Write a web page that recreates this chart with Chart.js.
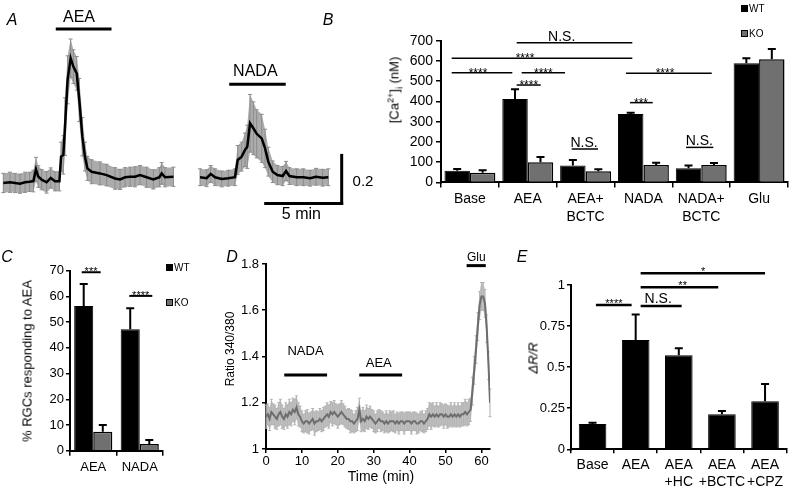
<!DOCTYPE html>
<html>
<head>
<meta charset="utf-8">
<script src="https://cdn.jsdelivr.net/npm/chart.js@4.4.1/dist/chart.umd.min.js"></script>
<style>
  html, body { margin: 0; padding: 0; background: #fff; }
  #fig { position: relative; width: 797px; height: 492px; overflow: hidden; font-family: "Liberation Sans", Arial, sans-serif; color: #000; }
  canvas { position: absolute; }
  .t { position: absolute; white-space: nowrap; transform: translate(-50%, -50%); line-height: 1; }
  .panel { font-style: italic; font-size: 16px; }
  .rot { transform: translate(-50%, -50%) rotate(-90deg); }
  .key { position: absolute; box-sizing: border-box; width: 7px; height: 7px; border: 1px solid #000; }
  .keytxt { position: absolute; font-size: 10px; line-height: 1; }
  sup, sub { font-size: 9px; line-height: 0; }
</style>
</head>
<body>
<div id="fig">
  <canvas id="cA" width="380" height="240" style="left:0;top:0"></canvas>
  <canvas id="cB" width="417" height="240" style="left:380px;top:0"></canvas>
  <canvas id="cC" width="240" height="252" style="left:0;top:240px"></canvas>
  <canvas id="cD" width="290" height="252" style="left:240px;top:240px"></canvas>
  <canvas id="cE" width="267" height="252" style="left:530px;top:240px"></canvas>

  <div class="t panel" style="left:12px;top:20px">A</div>
  <div class="t panel" style="left:328px;top:20px">B</div>
  <div class="t panel" style="left:7px;top:257px">C</div>
  <div class="t panel" style="left:232px;top:257px">D</div>
  <div class="t panel" style="left:522px;top:257px">E</div>

  <div class="t rot" style="left:394px;top:90px;font-size:13px">[Ca<sup>2+</sup>]<sub>i</sub> (nM)</div>
  <div class="t rot" style="left:27px;top:361px;font-size:13px">% RGCs responding to AEA</div>
  <div class="t rot" style="left:230px;top:349px;font-size:12px">Ratio 340/380</div>
  <div class="t" style="left:381px;top:476px;font-size:14px">Time (min)</div>
  <div class="t rot" style="left:533px;top:358px;font-size:13px;font-style:italic">&Delta;R/R</div>

  <div class="key" style="left:741px;top:5px;background:#000"></div>
  <div class="keytxt" style="left:749px;top:4px">WT</div>
  <div class="key" style="left:741px;top:30px;background:#707070"></div>
  <div class="keytxt" style="left:749px;top:29px">KO</div>

  <div class="key" style="left:166px;top:264px;background:#000"></div>
  <div class="keytxt" style="left:174px;top:263px">WT</div>
  <div class="key" style="left:166px;top:299px;background:#707070"></div>
  <div class="keytxt" style="left:174px;top:298px">KO</div>
</div>
<script>
// A: mean traces (ratio change vs time, min)
const aeaTime = [0.02, 0.46, 0.8, 1.12, 1.45, 1.75, 2.0, 2.17, 2.32, 2.54,
                 2.87, 3.14, 3.42, 3.71, 3.82, 3.97, 4.08, 4.25, 4.45, 4.63,
                 4.85, 5.02, 5.22, 5.39, 5.55, 5.83, 6.38, 6.82, 7.37, 7.7,
                 8.03, 8.36, 8.68, 9.01, 9.45, 9.89, 10.29, 10.44, 10.66, 11.21];
const aeaRatio = [0, 0.003, 0, -0.003, 0.003, 0.005, 0.008, 0.057, 0.027, 0.014,
                  0.003, 0.021, 0.007, 0.007, 0.11, 0.117, 0.235, 0.43, 0.52, 0.485,
                  0.457, 0.346, 0.193, 0.11, 0.061, 0.047, 0.04, 0.033, 0.019, 0.015,
                  0.024, 0.026, 0.026, 0.033, 0.024, 0.015, 0.024, 0.04, 0.024, 0.026];
const aeaErr = [0.04, 0.042, 0.04, 0.04, 0.042, 0.04, 0.045, 0.05, 0.045, 0.042,
                0.045, 0.042, 0.04, 0.04, 0.06, 0.08, 0.12, 0.10, 0.08, 0.07,
                0.07, 0.09, 0.08, 0.06, 0.05, 0.05, 0.048, 0.045, 0.045, 0.042,
                0.04, 0.04, 0.042, 0.04, 0.042, 0.04, 0.04, 0.045, 0.04, 0.04];
const nadaTime = [12.96, 13.4, 13.66, 13.95, 14.39, 14.82, 15.26, 15.44, 15.7, 15.92,
                  16.07, 16.25, 16.47, 16.69, 17.02, 17.24, 17.45, 17.74, 18.05, 18.4,
                  18.62, 18.84, 19.32, 19.76, 20.2, 20.59, 21.03, 21.4];
const nadaRatio = [0.024, 0.02, 0.038, 0.024, 0.017, 0.02, 0.024, 0.096, 0.11, 0.138,
                   0.151, 0.249, 0.228, 0.205, 0.186, 0.144, 0.089, 0.047, 0.033, 0.029,
                   0.05, 0.029, 0.024, 0.024, 0.02, 0.026, 0.022, 0.024];
const nadaErr = [0.035, 0.035, 0.035, 0.035, 0.033, 0.033, 0.035, 0.06, 0.06, 0.07,
                 0.09, 0.12, 0.11, 0.10, 0.10, 0.08, 0.06, 0.045, 0.04, 0.04,
                 0.04, 0.035, 0.035, 0.035, 0.033, 0.035, 0.035, 0.035];

// B: [Ca2+]i, nM
const bCats = ['Base', 'AEA', ['AEA+', 'BCTC'], 'NADA', ['NADA+', 'BCTC'], 'Glu'];
const bWT = [58, 412, 83, 338, 70, 588];
const bWTerr = [8, 48, 28, 6, 13, 25];
const bKO = [48, 99, 55, 86, 86, 608];
const bKOerr = [12, 26, 10, 11, 10, 51];

// C: % RGCs responding
const cCats = ['AEA', 'NADA'];
const cWT = [56.3, 47.2];
const cWTerr = [8.5, 8.2];
const cKO = [7.4, 2.6];
const cKOerr = [2.6, 1.6];

// D: ratio 340/380 over time
const dTime = [0, 0.5, 1, 1.5, 2, 2.5, 3, 3.5, 4, 4.5,
               5, 5.5, 6, 6.5, 7, 7.5, 8, 8.5, 9, 9.5,
               10, 10.5, 11, 11.5, 12, 12.5, 13, 13.5, 14, 14.5,
               15, 15.5, 16, 16.5, 17, 17.5, 18, 18.5, 19, 19.5,
               20, 20.5, 21, 21.5, 22, 22.5, 23, 23.5, 24, 24.5,
               25, 25.5, 26, 26.5, 27, 27.5, 28, 28.5, 29, 29.5,
               30, 30.5, 31, 31.5, 32, 32.5, 33, 33.5, 34, 34.5,
               35, 35.5, 36, 36.5, 37, 37.5, 38, 38.5, 39, 39.5,
               40, 40.5, 41, 41.5, 42, 42.5, 43, 43.5, 44, 44.5,
               45, 45.5, 46, 46.5, 47, 47.5, 48, 48.5, 49, 49.5,
               50, 50.5, 51, 51.5, 52, 52.5, 53, 53.5, 54, 54.5,
               55, 55.5, 56, 56.5,
               57, 57.5, 58, 58.5, 59, 59.5, 60, 60.5, 61, 61.5, 62, 62.4];
const dRatio = [1.14, 1.15, 1.13, 1.16, 1.15, 1.14, 1.13, 1.15, 1.16, 1.14,
                1.13, 1.15, 1.14, 1.16, 1.15, 1.17, 1.16, 1.18, 1.15, 1.14,
                1.12, 1.11, 1.12, 1.12, 1.11, 1.12, 1.13, 1.11, 1.12, 1.12,
                1.13, 1.12, 1.13, 1.14, 1.15, 1.14, 1.16, 1.15, 1.16, 1.15,
                1.14, 1.15, 1.16, 1.15, 1.14, 1.13, 1.13, 1.12, 1.12, 1.11,
                1.12, 1.13, 1.17, 1.12, 1.13, 1.12, 1.14, 1.13, 1.14, 1.13,
                1.12, 1.11, 1.12, 1.13, 1.12, 1.12, 1.11, 1.12, 1.11, 1.12,
                1.12, 1.12, 1.11, 1.12, 1.11, 1.12, 1.12, 1.11, 1.12, 1.12,
                1.12, 1.11, 1.12, 1.12, 1.11, 1.11, 1.12, 1.12, 1.11, 1.12,
                1.13, 1.15, 1.14, 1.15, 1.14, 1.15, 1.14, 1.15, 1.15, 1.14,
                1.15, 1.14, 1.14, 1.15, 1.14, 1.15, 1.14, 1.15, 1.14, 1.15,
                1.15, 1.16, 1.15, 1.16,
                1.17, 1.25, 1.34, 1.43, 1.53, 1.62, 1.66, 1.66, 1.63, 1.52, 1.36, 1.20];
const dErr = [0.05, 0.045, 0.05, 0.055, 0.045, 0.05, 0.045, 0.05, 0.055, 0.05,
              0.045, 0.05, 0.05, 0.055, 0.05, 0.05, 0.055, 0.05, 0.05, 0.045,
              0.045, 0.04, 0.045, 0.05, 0.045, 0.04, 0.045, 0.05, 0.045, 0.04,
              0.045, 0.045, 0.05, 0.045, 0.05, 0.05, 0.045, 0.05, 0.05, 0.045,
              0.05, 0.045, 0.05, 0.045, 0.045, 0.04, 0.045, 0.05, 0.045, 0.04,
              0.045, 0.05, 0.05, 0.045, 0.05, 0.045, 0.05, 0.045, 0.045, 0.04,
              0.045, 0.04, 0.045, 0.04, 0.045, 0.04, 0.04, 0.045, 0.04, 0.045,
              0.04, 0.045, 0.04, 0.04, 0.045, 0.04, 0.04, 0.045, 0.04, 0.04,
              0.04, 0.045, 0.04, 0.04, 0.045, 0.04, 0.04, 0.045, 0.04, 0.045,
              0.045, 0.05, 0.055, 0.05, 0.045, 0.05, 0.045, 0.05, 0.045, 0.05,
              0.045, 0.05, 0.045, 0.05, 0.045, 0.05, 0.045, 0.05, 0.045, 0.05,
              0.05, 0.055, 0.05, 0.055,
              0.05, 0.06, 0.06, 0.06, 0.06, 0.06, 0.06, 0.06, 0.06, 0.06, 0.06, 0.06];

// E: dR/R
const eCats = ['Base', 'AEA', ['AEA', '+HC'], ['AEA', '+BCTC'], ['AEA', '+CPZ']];
const eVal = [0.154, 0.665, 0.572, 0.213, 0.292];
const eErr = [0.008, 0.155, 0.043, 0.02, 0.105];

Chart.defaults.font.family = '"Liberation Sans", Arial, Helvetica, sans-serif';
Chart.defaults.color = '#000';
Chart.defaults.animation = false;
Chart.defaults.responsive = false;
Chart.defaults.plugins.legend.display = false;
Chart.defaults.plugins.tooltip.enabled = false;

const toXY = (xs, ys) => xs.map((x, i) => ({ x: x, y: ys[i] }));

// shaded SEM band + caps under a line trace
const bandPlugin = {
  id: 'band',
  beforeDatasetsDraw(chart, args, o) {
    const { ctx, scales: { x, y } } = chart;
    chart.data.datasets.forEach((ds, di) => {
      const err = o.errs[di];
      const pts = ds.data;
      ctx.save();
      ctx.fillStyle = o.fill;
      ctx.beginPath();
      pts.forEach((p, i) => {
        const px = x.getPixelForValue(p.x), py = y.getPixelForValue(p.y + err[i]);
        if (i === 0) ctx.moveTo(px, py); else ctx.lineTo(px, py);
      });
      for (let i = pts.length - 1; i >= 0; i--) {
        ctx.lineTo(x.getPixelForValue(pts[i].x), y.getPixelForValue(pts[i].y - err[i]));
      }
      ctx.closePath();
      ctx.fill();
      ctx.strokeStyle = o.stroke;
      ctx.lineWidth = 1;
      pts.forEach((p, i) => {
        const px = x.getPixelForValue(p.x);
        const top = y.getPixelForValue(p.y + err[i]);
        const bot = y.getPixelForValue(p.y - err[i]);
        ctx.beginPath();
        ctx.moveTo(px, top); ctx.lineTo(px, bot);
        ctx.moveTo(px - o.cap, top); ctx.lineTo(px + o.cap, top);
        ctx.moveTo(px - o.cap, bot); ctx.lineTo(px + o.cap, bot);
        ctx.stroke();
      });
      ctx.restore();
    });
  }
};

// drug bars, scale bars and their labels, in data units
const decoPlugin = {
  id: 'deco',
  afterDraw(chart, args, o) {
    const { ctx, scales: { x, y } } = chart;
    ctx.save();
    ctx.strokeStyle = '#000';
    ctx.fillStyle = '#000';
    ctx.lineWidth = o.lineWidth;
    ctx.lineCap = 'square';
    o.lines.forEach(l => {
      ctx.beginPath();
      ctx.moveTo(x.getPixelForValue(l.x1), y.getPixelForValue(l.y1));
      ctx.lineTo(x.getPixelForValue(l.x2), y.getPixelForValue(l.y2));
      ctx.stroke();
    });
    ctx.textAlign = 'center';
    ctx.textBaseline = 'middle';
    o.texts.forEach(t => {
      ctx.font = t.font;
      ctx.fillText(t.text, x.getPixelForValue(t.x), y.getPixelForValue(t.y));
    });
    ctx.restore();
  }
};

// upward SEM bars on bar charts
const barErrPlugin = {
  id: 'barErr',
  afterDatasetsDraw(chart, args, o) {
    const { ctx, scales: { y } } = chart;
    ctx.save();
    ctx.strokeStyle = '#000';
    ctx.lineWidth = o.lineWidth;
    chart.data.datasets.forEach((ds, di) => {
      chart.getDatasetMeta(di).data.forEach((bar, i) => {
        const top = y.getPixelForValue(ds.data[i] + o.errs[di][i]);
        ctx.beginPath();
        ctx.moveTo(bar.x, bar.y);
        ctx.lineTo(bar.x, top);
        ctx.moveTo(bar.x - o.cap, top);
        ctx.lineTo(bar.x + o.cap, top);
        ctx.stroke();
      });
    });
    ctx.restore();
  }
};

// significance brackets; x in category units, y in data units
const sigPlugin = {
  id: 'sig',
  afterDraw(chart, args, o) {
    const { ctx, scales: { x, y } } = chart;
    ctx.save();
    ctx.strokeStyle = '#000';
    ctx.fillStyle = '#000';
    ctx.textAlign = 'center';
    ctx.textBaseline = 'alphabetic';
    ctx.lineWidth = o.lineWidth;
    o.items.forEach(s => {
      const py = y.getPixelForValue(s.y);
      ctx.beginPath();
      ctx.moveTo(x.getPixelForValue(s.x1), py);
      ctx.lineTo(x.getPixelForValue(s.x2), py);
      ctx.stroke();
      const stars = s.text[0] === '*';
      ctx.font = stars ? o.starFont : o.textFont;
      ctx.fillText(s.text, x.getPixelForValue(s.tx), py + (stars ? o.starDy : o.textDy));
    });
    ctx.restore();
  }
};

function axis(size, tickLen, pad, extraTicks) {
  return {
    border: { display: true, color: '#000', width: 2 },
    grid: { display: true, drawOnChartArea: false, drawTicks: true, tickLength: tickLen, color: '#000', lineWidth: 1.5 },
    ticks: Object.assign({ color: '#000', font: { size: size, lineHeight: 1.25 }, padding: pad, maxRotation: 0, autoSkip: false }, extraTicks || {})
  };
}
const trimNum = v => String(+v.toFixed(2));

// ---- A ----
new Chart(document.getElementById('cA'), {
  type: 'line',
  data: {
    datasets: [
      { data: toXY(aeaTime, aeaRatio), borderColor: '#000', borderWidth: 2.5, pointRadius: 0, tension: 0 },
      { data: toXY(nadaTime, nadaRatio), borderColor: '#000', borderWidth: 2.5, pointRadius: 0, tension: 0 }
    ]
  },
  options: {
    layout: { padding: 0 },
    scales: {
      x: { type: 'linear', display: false, min: -0.197, max: 24.8 },
      y: { type: 'linear', display: false, min: -0.2375, max: 0.7625 }
    },
    plugins: {
      band: { errs: [aeaErr, nadaErr], fill: 'rgba(140,140,140,0.72)', stroke: '#8c8c8c', cap: 2 },
      deco: {
        lineWidth: 3,
        lines: [
          { x1: 3.57, y1: 0.642, x2: 7.04, y2: 0.642 },
          { x1: 14.98, y1: 0.411, x2: 18.5, y2: 0.411 },
          { x1: 17.28, y1: -0.085, x2: 22.28, y2: -0.085 },
          { x1: 22.28, y1: -0.085, x2: 22.28, y2: 0.115 }
        ],
        texts: [
          { text: 'AEA', x: 5.0, y: 0.69, font: '16px "Liberation Sans", Arial' },
          { text: 'NADA', x: 16.6, y: 0.466, font: '16px "Liberation Sans", Arial' },
          { text: '0.2', x: 23.68, y: 0.006, font: '15px "Liberation Sans", Arial' },
          { text: '5 min', x: 19.63, y: -0.131, font: '16px "Liberation Sans", Arial' }
        ]
      }
    }
  },
  plugins: [bandPlugin, decoPlugin]
});

// ---- B ----
new Chart(document.getElementById('cB'), {
  type: 'bar',
  data: {
    labels: bCats,
    datasets: [
      { label: 'WT', data: bWT, backgroundColor: '#000', borderColor: '#000', borderWidth: 1 },
      { label: 'KO', data: bKO, backgroundColor: '#707070', borderColor: '#000', borderWidth: 1.5 }
    ]
  },
  options: {
    layout: { padding: { left: 0, right: 9, top: 40.7, bottom: 0 } },
    datasets: { bar: { categoryPercentage: 0.88, barPercentage: 1 } },
    scales: {
      x: Object.assign(axis(14, 5, 3), { afterFit: s => { s.height = 57.6; } }),
      y: Object.assign(axis(14, 5, 3, { stepSize: 100 }), { min: 0, max: 700, afterFit: s => { s.width = 61; } })
    },
    plugins: {
      barErr: { errs: [bWTerr, bKOerr], cap: 4, lineWidth: 2 },
      sig: {
        lineWidth: 1.5, starFont: '12px "Liberation Sans", Arial', textFont: '14px "Liberation Sans", Arial',
        starDy: 4, textDy: -2,
        items: [
          { x1: 0.809, x2: 2.808, y: 690, tx: 1.587, text: 'N.S.' },
          { x1: -0.315, x2: 2.808, y: 613, tx: 0.953, text: '****' },
          { x1: -0.315, x2: 0.733, y: 542, tx: 0.14, text: '****' },
          { x1: 0.895, x2: 1.644, y: 542, tx: 1.269, text: '****' },
          { x1: 0.809, x2: 1.224, y: 481, tx: 1.017, text: '****' },
          { x1: 2.699, x2: 4.181, y: 539, tx: 3.373, text: '****' },
          { x1: 2.768, x2: 3.161, y: 394, tx: 2.958, text: '***' },
          { x1: 1.76, x2: 2.215, y: 165, tx: 1.973, text: 'N.S.' },
          { x1: 3.737, x2: 4.209, y: 173, tx: 3.967, text: 'N.S.' }
        ]
      }
    }
  },
  plugins: [barErrPlugin, sigPlugin]
});

// ---- C ----
new Chart(document.getElementById('cC'), {
  type: 'bar',
  data: {
    labels: cCats,
    datasets: [
      { label: 'WT', data: cWT, backgroundColor: '#000', borderColor: '#000', borderWidth: 1 },
      { label: 'KO', data: cKO, backgroundColor: '#707070', borderColor: '#000', borderWidth: 1.5 }
    ]
  },
  options: {
    layout: { padding: { left: 0, right: 77, top: 30.7, bottom: 0 } },
    datasets: { bar: { categoryPercentage: 0.82, barPercentage: 1 } },
    scales: {
      x: Object.assign(axis(13, 5, 4), { afterFit: s => { s.height = 41.3; } }),
      y: Object.assign(axis(13, 4, 2, { stepSize: 10 }), { min: 0, max: 70, afterFit: s => { s.width = 70; } })
    },
    plugins: {
      barErr: { errs: [cWTerr, cKOerr], cap: 4, lineWidth: 2 },
      sig: {
        lineWidth: 2, starFont: '11px "Liberation Sans", Arial', textFont: '13px "Liberation Sans", Arial',
        starDy: 3, textDy: -2,
        items: [
          { x1: -0.248, x2: 0.16, y: 69.4, tx: -0.048, text: '***' },
          { x1: 0.775, x2: 1.27, y: 60.2, tx: 1.02, text: '****' }
        ]
      }
    }
  },
  plugins: [barErrPlugin, sigPlugin]
});

// ---- D ----
new Chart(document.getElementById('cD'), {
  type: 'line',
  data: {
    datasets: [
      { data: toXY(dTime, dRatio), borderColor: '#6e6e6e', borderWidth: 2, pointRadius: 0, tension: 0 }
    ]
  },
  options: {
    layout: { padding: { left: 0, right: 40, top: 24, bottom: 0 } },
    scales: {
      x: Object.assign(axis(13, 4, 0, { stepSize: 10, includeBounds: false }), {
        type: 'linear', min: 0, max: 62.4, afterFit: s => { s.height = 43; }
      }),
      y: Object.assign(axis(13, 4, 3, { stepSize: 0.2, callback: trimNum }), {
        type: 'linear', min: 1, max: 1.8, afterFit: s => { s.width = 26; }
      })
    },
    plugins: {
      band: { errs: [dErr], fill: 'rgba(175,175,175,0.75)', stroke: '#b4b4b4', cap: 1.5 },
      deco: {
        lineWidth: 3,
        lines: [
          { x1: 5.5, y1: 1.32, x2: 16.6, y2: 1.32 },
          { x1: 26.4, y1: 1.32, x2: 37.5, y2: 1.32 },
          { x1: 56.3, y1: 1.793, x2: 60.8, y2: 1.793 }
        ],
        texts: [
          { text: 'NADA', x: 11.0, y: 1.424, font: '13px "Liberation Sans", Arial' },
          { text: 'AEA', x: 31.4, y: 1.368, font: '13px "Liberation Sans", Arial' },
          { text: 'Glu', x: 58.6, y: 1.827, font: '12px "Liberation Sans", Arial' }
        ]
      }
    }
  },
  plugins: [bandPlugin, decoPlugin]
});

// ---- E ----
new Chart(document.getElementById('cE'), {
  type: 'bar',
  data: {
    labels: eCats,
    datasets: [
      { data: eVal, backgroundColor: '#000', borderColor: '#000', borderWidth: 1 }
    ]
  },
  options: {
    layout: { padding: { left: 0, right: 10.4, top: 45, bottom: 0 } },
    datasets: { bar: { categoryPercentage: 0.64, barPercentage: 1 } },
    scales: {
      x: Object.assign(axis(14, 4, 3), { afterFit: s => { s.height = 42.7; } }),
      y: Object.assign(axis(13, 4, 2, { stepSize: 0.25, callback: trimNum }), { min: 0, max: 1, afterFit: s => { s.width = 41; } })
    },
    plugins: {
      barErr: { errs: [eErr], cap: 4, lineWidth: 2 },
      sig: {
        lineWidth: 2.5, starFont: '11px "Liberation Sans", Arial', textFont: '14px "Liberation Sans", Arial',
        starDy: 2, textDy: -3,
        items: [
          { x1: 0.078, x2: 0.906, y: 0.878, tx: 0.495, text: '****' },
          { x1: 1.115, x2: 2.066, y: 0.872, tx: 1.523, text: 'N.S.' },
          { x1: 1.115, x2: 2.915, y: 0.986, tx: 2.089, text: '**' },
          { x1: 1.115, x2: 4.0, y: 1.071, tx: 2.567, text: '*' }
        ]
      }
    }
  },
  plugins: [barErrPlugin, sigPlugin]
});
</script>
</body>
</html>
